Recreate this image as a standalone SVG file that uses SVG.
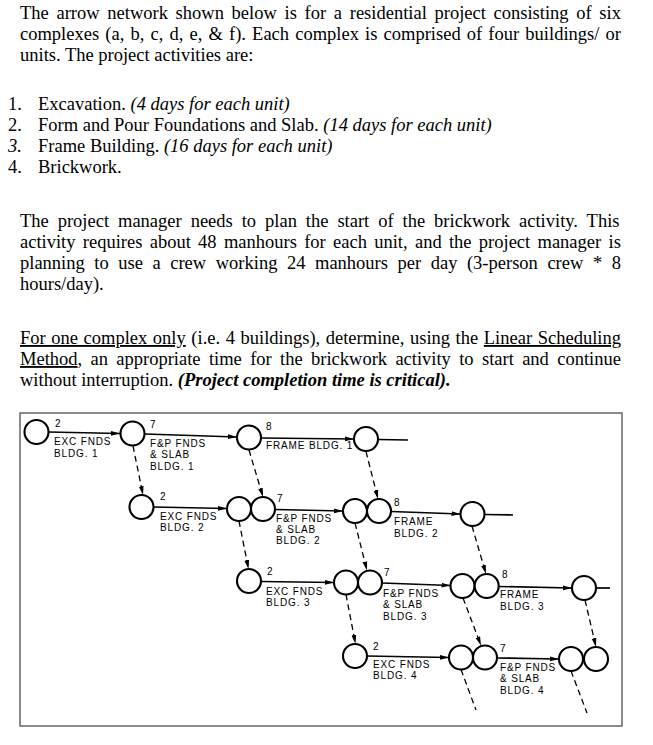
<svg xmlns="http://www.w3.org/2000/svg" width="653" height="745" viewBox="0 0 653 745">
<style>
.t{font-family:"Liberation Serif","Times New Roman",serif;font-size:18.5px;fill:#000}
.i{font-style:italic}
.bi{font-style:italic;font-weight:bold}
.u{text-decoration:underline}
.n circle{fill:#fff;stroke:#000;stroke-width:2.1}
.s{stroke:#000;stroke-width:1.7;fill:none}
.d{stroke:#000;stroke-width:1.3;fill:none;stroke-dasharray:6 4}
.l{font-family:"Liberation Sans",Arial,sans-serif;font-size:10px;letter-spacing:0.85px;fill:#000}
</style>
<defs>
<marker id="ah" markerUnits="userSpaceOnUse" markerWidth="10" markerHeight="8" refX="9" refY="3" orient="auto">
<path d="M0,0.6 L9,3 L0,5.4 Z" fill="#000"/>
</marker>
</defs>
<rect width="653" height="745" fill="#fff"/>

<g id="question">
<text class="t" x="20" y="19" word-spacing="3.07">The arrow network shown below is for a residential project consisting of six</text>
<text class="t" x="20" y="40" word-spacing="1.53">complexes (a, b, c, d, e, &amp; f). Each complex is comprised of four buildings/ or</text>
<text class="t" x="20" y="61">units. The project activities are:</text>
<text class="t" x="8" y="110">1.<tspan x="38">Excavation. </tspan><tspan class="i">(4 days for each unit)</tspan></text>
<text class="t" x="8" y="131">2.<tspan x="38">Form and Pour Foundations and Slab. </tspan><tspan class="i">(14 days for each unit)</tspan></text>
<text class="t" x="8" y="152"><tspan class="i">3.</tspan><tspan x="38">Frame Building. </tspan><tspan class="i">(16 days for each unit)</tspan></text>
<text class="t" x="8" y="172.5">4.<tspan x="38">Brickwork.</tspan></text>
<text class="t" x="20" y="227" word-spacing="4.32">The project manager needs to plan the start of the brickwork activity. This</text>
<text class="t" x="20" y="248" word-spacing="2.68">activity requires about 48 manhours for each unit, and the project manager is</text>
<text class="t" x="20" y="269" word-spacing="4.93">planning to use a crew working 24 manhours per day (3-person crew * 8</text>
<text class="t" x="20" y="290">hours/day).</text>
<text class="t" x="20" y="344" word-spacing="0.96"><tspan class="u">For one complex only</tspan> (i.e. 4 buildings), determine, using the <tspan class="u">Linear Scheduling</tspan></text>
<text class="t" x="20" y="365" word-spacing="3.72"><tspan class="u">Method</tspan>, an appropriate time for the brickwork activity to start and continue</text>
<text class="t" x="20" y="386">without interruption. <tspan class="bi">(Project completion time is critical).</tspan></text>
</g>

<rect id="frame" x="20" y="413" width="602" height="313" fill="none" stroke="#666" stroke-width="1.5"/>

<g id="connectors">
<line class="s" x1="48.5" y1="432" x2="120" y2="433.5" marker-end="url(#ah)"/>
<line class="s" x1="145" y1="434" x2="237" y2="437" marker-end="url(#ah)"/>
<line class="s" x1="261" y1="438" x2="354" y2="439" marker-end="url(#ah)"/>
<line class="s" x1="378" y1="439.5" x2="408" y2="440"/>
<line class="s" x1="153.5" y1="507" x2="227" y2="508.5" marker-end="url(#ah)"/>
<line class="s" x1="275" y1="509.5" x2="343" y2="511" marker-end="url(#ah)"/>
<line class="s" x1="391" y1="511.5" x2="460.5" y2="514" marker-end="url(#ah)"/>
<line class="s" x1="484.5" y1="514.5" x2="513" y2="515"/>
<line class="s" x1="261" y1="581.5" x2="334" y2="582.5" marker-end="url(#ah)"/>
<line class="s" x1="382" y1="583" x2="450.5" y2="585.5" marker-end="url(#ah)"/>
<line class="s" x1="498.7" y1="586.5" x2="572" y2="588" marker-end="url(#ah)"/>
<line class="s" x1="596" y1="588" x2="610" y2="588"/>
<line class="s" x1="367" y1="656" x2="449" y2="657.5" marker-end="url(#ah)"/>
<line class="s" x1="497" y1="658" x2="559" y2="659" marker-end="url(#ah)"/>
<line class="d" x1="133" y1="446" x2="143" y2="495" marker-end="url(#ah)"/>
<line class="d" x1="249" y1="450" x2="263" y2="497" marker-end="url(#ah)"/>
<line class="d" x1="366" y1="451.5" x2="378" y2="499" marker-end="url(#ah)"/>
<line class="d" x1="239" y1="521" x2="248.5" y2="569" marker-end="url(#ah)"/>
<line class="d" x1="355" y1="523" x2="367" y2="570.5" marker-end="url(#ah)"/>
<line class="d" x1="472" y1="526" x2="486" y2="574" marker-end="url(#ah)"/>
<line class="d" x1="346" y1="594.5" x2="355.5" y2="644" marker-end="url(#ah)"/>
<line class="d" x1="463" y1="598" x2="481" y2="645.5" marker-end="url(#ah)"/>
<line class="d" x1="585" y1="600" x2="596" y2="647" marker-end="url(#ah)"/>
<line class="d" x1="461" y1="669.5" x2="476" y2="710"/>
<line class="d" x1="571" y1="671" x2="587" y2="713"/>
</g>

<g id="nodes" class="n">
<g id="n1"><circle cx="36.5" cy="432" r="12"/></g>
<g id="n2"><circle cx="132.5" cy="433.5" r="12"/></g>
<g id="n3"><circle cx="249" cy="437.5" r="12"/></g>
<g id="n4"><circle cx="366" cy="439" r="12"/></g>
<g id="n5"><circle cx="141.5" cy="507" r="12"/></g>
<g id="n6a"><circle cx="239" cy="509" r="12"/></g>
<g id="n6b"><circle cx="263" cy="509" r="12"/></g>
<g id="n7a"><circle cx="355" cy="511" r="12"/></g>
<g id="n7b"><circle cx="379" cy="511" r="12"/></g>
<g id="n8"><circle cx="472.5" cy="514" r="12"/></g>
<g id="n9"><circle cx="249" cy="581" r="12"/></g>
<g id="n10a"><circle cx="346" cy="582.5" r="12"/></g>
<g id="n10b"><circle cx="370" cy="582.5" r="12"/></g>
<g id="n11a"><circle cx="462.5" cy="586" r="12"/></g>
<g id="n11b"><circle cx="486.7" cy="586" r="12"/></g>
<g id="n12"><circle cx="584" cy="588" r="12"/></g>
<g id="n13"><circle cx="355" cy="656" r="12"/></g>
<g id="n14a"><circle cx="461" cy="657.5" r="12"/></g>
<g id="n14b"><circle cx="485" cy="657.5" r="12"/></g>
<g id="n15a"><circle cx="571" cy="659" r="12"/></g>
<g id="n15b"><circle cx="596" cy="659" r="12"/></g>
</g>

<g id="labels" class="l">
<text x="55" y="427">2</text>
<text x="54" y="445">EXC FNDS</text>
<text x="54" y="456.5">BLDG. 1</text>
<text x="150" y="428">7</text>
<text x="150" y="446.5">F&amp;P FNDS</text>
<text x="150" y="458">&amp; SLAB</text>
<text x="150" y="469.5">BLDG. 1</text>
<text x="266" y="430">8</text>
<text x="266" y="449">FRAME BLDG. 1</text>
<text x="160" y="500">2</text>
<text x="160" y="520">EXC FNDS</text>
<text x="160" y="531">BLDG. 2</text>
<text x="277" y="501.5">7</text>
<text x="276" y="521.5">F&amp;P FNDS</text>
<text x="276" y="532.5">&amp; SLAB</text>
<text x="276" y="544">BLDG. 2</text>
<text x="394" y="506">8</text>
<text x="394" y="525">FRAME</text>
<text x="394" y="536.5">BLDG. 2</text>
<text x="267" y="575">2</text>
<text x="266" y="595">EXC FNDS</text>
<text x="266" y="606">BLDG. 3</text>
<text x="384" y="576">7</text>
<text x="383" y="596.5">F&amp;P FNDS</text>
<text x="383" y="608">&amp; SLAB</text>
<text x="383" y="619.5">BLDG. 3</text>
<text x="502" y="578">8</text>
<text x="500" y="597.5">FRAME</text>
<text x="500" y="609.5">BLDG. 3</text>
<text x="373" y="650">2</text>
<text x="373" y="668">EXC FNDS</text>
<text x="373" y="679">BLDG. 4</text>
<text x="500" y="651.5">7</text>
<text x="500" y="670.5">F&amp;P FNDS</text>
<text x="500" y="681.5">&amp; SLAB</text>
<text x="500" y="693.5">BLDG. 4</text>
</g>
</svg>
